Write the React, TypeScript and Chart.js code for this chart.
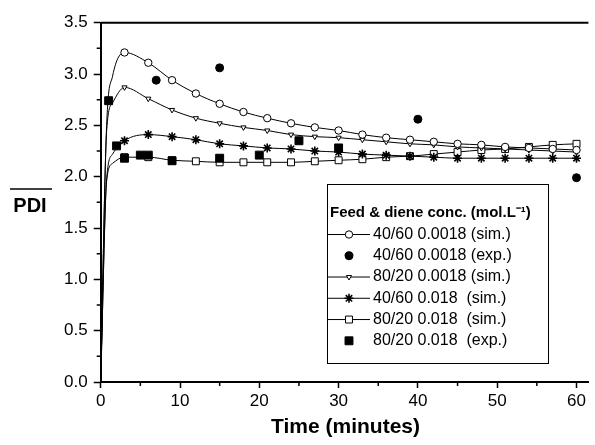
import React, { useEffect, useRef } from 'react';
import { Chart, registerables } from 'chart.js';
import { drawPoint } from 'chart.js/helpers';

Chart.register(...registerables);

// ---------- data ----------
const simTime = [0, 0.75, 1.5, 3, 6, 9, 12, 15, 18, 21, 24, 27, 30, 33, 36, 39, 42, 45, 48, 51, 54, 57, 60];
const sim4060_0018 = [0, 2.5, 2.98, 3.21, 3.11, 2.94, 2.81, 2.71, 2.63, 2.57, 2.52, 2.48, 2.45, 2.41, 2.38, 2.36, 2.34, 2.32, 2.31, 2.29, 2.28, 2.27, 2.26];
const sim8020_0018 = [0, 2.45, 2.72, 2.87, 2.76, 2.65, 2.57, 2.52, 2.48, 2.45, 2.41, 2.39, 2.38, 2.36, 2.34, 2.32, 2.31, 2.29, 2.28, 2.27, 2.26, 2.25, 2.24];
const sim4060_018 = [0, 1.98, 2.22, 2.35, 2.41, 2.39, 2.36, 2.32, 2.30, 2.28, 2.27, 2.25, 2.24, 2.22, 2.21, 2.20, 2.19, 2.18, 2.18, 2.18, 2.18, 2.18, 2.18];
const sim8020_018 = [0, 1.96, 2.13, 2.19, 2.19, 2.16, 2.15, 2.14, 2.14, 2.14, 2.14, 2.15, 2.16, 2.17, 2.19, 2.20, 2.22, 2.24, 2.26, 2.27, 2.29, 2.31, 2.32];

const exp4060_0018_time = [7, 15, 40, 60];
const exp4060_0018 = [2.94, 3.06, 2.56, 1.99];
const exp8020_018_time = [1, 2, 3, 5, 6, 9, 15, 20, 25, 30];
const exp8020_018 = [2.74, 2.30, 2.18, 2.21, 2.21, 2.155, 2.18, 2.21, 2.35, 2.28];

const xTicks = [0, 10, 20, 30, 40, 50, 60];
const xMinorTicks = [5, 15, 25, 35, 45, 55];
const yTicks = [0, 0.5, 1.0, 1.5, 2.0, 2.5, 3.0, 3.5];
const yMinorTicks = [0.25, 0.75, 1.25, 1.75, 2.25, 2.75, 3.25];

const legendTitle = 'Feed & diene conc. (mol.L\u207B\u00B9)';
const legendLabels = [
  '40/60 0.0018 (sim.)',
  '40/60 0.0018 (exp.)',
  '80/20 0.0018 (sim.)',
  '40/60 0.018  (sim.)',
  '80/20 0.018  (sim.)',
  '80/20 0.018  (exp.)',
];
const xTitle = 'Time (minutes)';
const yTitle = 'PDI';

// ---------- styles ----------
const FONT = 'Liberation Sans, Arial, Helvetica, sans-serif';
const BLACK = '#000000';

type Mk = { style: string; radius: number; rotation: number; fill: string; bw: number; line: boolean };
const markers: Mk[] = [
  { style: 'circle', radius: 3.7, rotation: 0, fill: '#ffffff', bw: 1, line: true },
  { style: 'circle', radius: 4, rotation: 0, fill: BLACK, bw: 1, line: false },
  { style: 'triangle', radius: 3, rotation: 180, fill: '#ffffff', bw: 1, line: true },
  { style: 'star', radius: 4.5, rotation: 0, fill: BLACK, bw: 1.6, line: true },
  { style: 'rect', radius: 4.9, rotation: 0, fill: '#ffffff', bw: 1, line: true },
  { style: 'rect', radius: 5.6, rotation: 0, fill: BLACK, bw: 1, line: false },
];

const pts = (xs: number[], ys: number[]) => xs.map((x, i) => ({ x, y: ys[i] }));

function simDataset(values: number[], mk: Mk) {
  return {
    data: pts(simTime, values),
    showLine: true,
    borderColor: BLACK,
    borderWidth: 1,
    cubicInterpolationMode: 'monotone' as const,
    pointStyle: mk.style,
    pointRotation: mk.rotation,
    pointRadius: (c: any) => (simTime[c.dataIndex] >= 3 ? mk.radius : 0),
    pointBackgroundColor: mk.fill,
    pointBorderColor: BLACK,
    pointBorderWidth: mk.bw,
    order: 1,
  };
}

function expDataset(xs: number[], ys: number[], mk: Mk) {
  return {
    data: pts(xs, ys),
    showLine: false,
    borderColor: BLACK,
    pointStyle: mk.style,
    pointRotation: mk.rotation,
    pointRadius: mk.radius,
    pointBackgroundColor: mk.fill,
    pointBorderColor: BLACK,
    pointBorderWidth: mk.bw,
    order: 0,
  };
}

const decorPlugin = {
  id: 'decor',
  afterDraw(chart: any) {
    const { ctx, chartArea } = chart;
    const xs = chart.scales.x;
    const ys = chart.scales.y;
    ctx.save();
    ctx.strokeStyle = BLACK;
    ctx.fillStyle = BLACK;

    // top frame line
    ctx.lineWidth = 2;
    ctx.beginPath();
    ctx.moveTo(chartArea.left, chartArea.top);
    ctx.lineTo(chartArea.right, chartArea.top);
    ctx.stroke();

    // minor ticks
    ctx.lineWidth = 1.5;
    ctx.beginPath();
    xMinorTicks.forEach((v) => {
      const px = xs.getPixelForValue(v);
      ctx.moveTo(px, chartArea.bottom);
      ctx.lineTo(px, chartArea.bottom + 4);
    });
    yMinorTicks.forEach((v) => {
      const py = ys.getPixelForValue(v);
      ctx.moveTo(chartArea.left, py);
      ctx.lineTo(chartArea.left - 4, py);
    });
    ctx.stroke();

    // axis titles
    ctx.textAlign = 'center';
    ctx.textBaseline = 'alphabetic';
    ctx.font = `bold 21px ${FONT}`;
    ctx.fillText(xTitle, (chartArea.left + chartArea.right) / 2 + 1, 433);
    ctx.font = `bold 20px ${FONT}`;
    ctx.fillText(yTitle, 30, 212);
    ctx.lineWidth = 1.4;
    ctx.beginPath();
    ctx.moveTo(10, 189);
    ctx.lineTo(52, 189);
    ctx.stroke();

    // legend
    const bx = 327.5, by = 184.5, bw = 221, bh = 179;
    ctx.fillStyle = '#ffffff';
    ctx.fillRect(bx, by, bw, bh);
    ctx.lineWidth = 1;
    ctx.strokeStyle = BLACK;
    ctx.strokeRect(bx, by, bw, bh);
    ctx.fillStyle = BLACK;
    ctx.textAlign = 'left';
    ctx.textBaseline = 'middle';
    ctx.font = `bold 15px ${FONT}`;
    ctx.fillText(legendTitle, 330, 213);
    ctx.font = `16px ${FONT}`;
    legendLabels.forEach((label, i) => {
      const y = 234.5 + i * 21.26;
      const mk = markers[i];
      if (mk.line) {
        ctx.lineWidth = 1;
        ctx.strokeStyle = BLACK;
        ctx.beginPath();
        ctx.moveTo(328, y);
        ctx.lineTo(370, y);
        ctx.stroke();
      }
      ctx.fillStyle = mk.fill;
      ctx.strokeStyle = BLACK;
      ctx.lineWidth = mk.bw;
      drawPoint(ctx, { pointStyle: mk.style as any, radius: mk.radius, rotation: mk.rotation, borderWidth: mk.bw }, 349, y);
      ctx.fillStyle = BLACK;
      ctx.fillText(label, 373, y);
    });
    ctx.restore();
  },
};

export default function App() {
  const ref = useRef<HTMLCanvasElement | null>(null);
  useEffect(() => {
    document.body.style.margin = '0';
    if (!ref.current) return;
    const chart = new Chart(ref.current, {
      type: 'scatter',
      data: {
        datasets: [
          simDataset(sim4060_0018, markers[0]),
          expDataset(exp4060_0018_time, exp4060_0018, markers[1]),
          simDataset(sim8020_0018, markers[2]),
          simDataset(sim4060_018, markers[3]),
          simDataset(sim8020_018, markers[4]),
          expDataset(exp8020_018_time, exp8020_018, markers[5]),
        ] as any,
      },
      options: {
        responsive: false,
        animation: false,
        devicePixelRatio: 1,
        layout: { padding: { top: 22.7, left: 0, right: 0, bottom: 0 } },
        plugins: { legend: { display: false }, tooltip: { enabled: false } },
        scales: {
          x: {
            type: 'linear',
            min: 0,
            max: 61.5,
            afterBuildTicks: (s: any) => { s.ticks = xTicks.map((v) => ({ value: v })); },
            afterFit: (s: any) => { s.height = 63; },
            ticks: { color: BLACK, font: { family: FONT, size: 17 }, padding: 3, maxRotation: 0, callback: (v: any) => String(v) },
            grid: { display: true, drawOnChartArea: false, drawTicks: true, tickLength: 6, tickWidth: 1.5, tickColor: BLACK },
            border: { display: true, color: BLACK, width: 2 },
          },
          y: {
            type: 'linear',
            min: 0,
            max: 3.5,
            afterBuildTicks: (s: any) => { s.ticks = yTicks.map((v) => ({ value: v })); },
            afterFit: (s: any) => { s.width = 100.7; },
            ticks: { color: BLACK, font: { family: FONT, size: 17 }, padding: 6, callback: (v: any) => Number(v).toFixed(1) },
            grid: { display: true, drawOnChartArea: false, drawTicks: true, tickLength: 7, tickWidth: 1.5, tickColor: BLACK },
            border: { display: true, color: BLACK, width: 2 },
          },
        },
      },
      plugins: [decorPlugin],
    });
    return () => chart.destroy();
  }, []);
  return (
    <div style={{ width: 595, height: 445 }}>
      <canvas ref={ref} width={595} height={445} style={{ display: 'block' }} />
    </div>
  );
}
